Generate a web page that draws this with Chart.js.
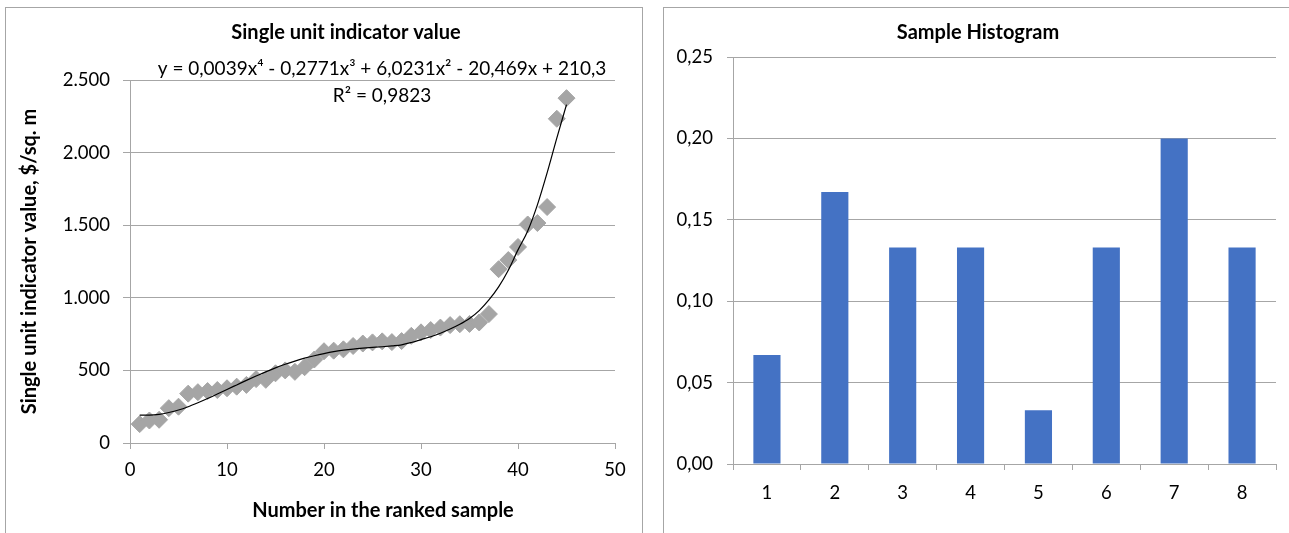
<!DOCTYPE html>
<html>
<head>
<meta charset="utf-8">
<script src="https://cdn.jsdelivr.net/npm/chart.js@4.4.1/dist/chart.umd.min.js"></script>
<style>
  html, body { margin: 0; padding: 0; background: #fff; overflow: hidden; }
  body { width: 1289px; height: 533px; position: relative; }
  .frame { position: absolute; border: 1px solid #a6a6a6; box-sizing: border-box; }
  #leftFrame { left: 5px; top: 7px; width: 638px; height: 560px; }
  #rightFrame { left: 663px; top: 7px; width: 640px; height: 560px; }
  canvas { position: absolute; top: 0; }
  #unitChart { left: 0; }
  #histChart { left: 663px; }
</style>
</head>
<body>
<div class="frame" id="leftFrame"></div>
<div class="frame" id="rightFrame"></div>
<canvas id="unitChart" width="696" height="533"></canvas>
<canvas id="histChart" width="630" height="533"></canvas>
<script>
// left chart: ranked sample
const rankNumbers = [1, 2, 3, 4, 5, 6, 7, 8, 9, 10, 11, 12, 13, 14, 15, 16, 17, 18, 19, 20, 21, 22, 23,
    24, 25, 26, 27, 28, 29, 30, 31, 32, 33, 34, 35, 36, 37, 38, 39, 40, 41, 42, 43, 44, 45];
const unitValues = [130, 155, 160, 240, 250, 340, 350, 358, 365, 377, 388, 400, 440, 435, 480, 500, 490, 522, 575, 632, 636, 645, 668,
    685, 693, 700, 695, 702, 738, 762, 778, 795, 812, 818, 820, 830, 888, 1197, 1260, 1350, 1505, 1515, 1625, 2233, 2375];
// trend line
const trendValues = [192, 192, 197, 210, 227, 250, 277, 306, 337, 369, 400, 431, 461, 490, 517, 542, 564, 584, 601, 616, 629, 639, 647,
    653, 658, 663, 669, 676, 692, 712, 732, 756, 785, 818, 858, 912, 985, 1075, 1190, 1330, 1460, 1640, 1860, 2100, 2330];
const unitXTicks = [0, 10, 20, 30, 40, 50];
const unitYTicks = [0, 500, 1000, 1500, 2000, 2500];
const unitTitle = 'Single unit indicator value';
const unitXTitle = 'Number in the ranked sample';
const unitYTitle = 'Single unit indicator value, $/sq. m';
const trendEquation = 'y = 0,0039x⁴ - 0,2771x³ + 6,0231x² - 20,469x + 210,3';
const trendR2 = 'R² = 0,9823';

// right chart: histogram
const histBins = ['1', '2', '3', '4', '5', '6', '7', '8'];
const histFreq = [0.067, 0.167, 0.133, 0.133, 0.033, 0.133, 0.2, 0.133];
const histYTicks = [0, 0.05, 0.10, 0.15, 0.20, 0.25];
const histTitle = 'Sample Histogram';

const gridColor = '#a6a6a6';

const thousands = v => String(v).replace(/\B(?=(\d{3})+(?!\d))/g, '.');

// free texts (titles, trendline label) placed relative to the plot area,
// Excel does not centre them the way the title plugin does
const textAt = {
    id: 'textAt',
    afterDatasetsDraw(chart, args, opts) {
        const ctx = chart.ctx;
        const a = chart.chartArea;
        ctx.save();
        ctx.fillStyle = '#000';
        ctx.textAlign = 'center';
        ctx.textBaseline = 'middle';
        (opts.items || []).forEach(t => {
            ctx.font = t.font;
            ctx.fillText(t.text, a.left + t.dx, t.y);
        });
        ctx.restore();
    }
};

const unitChart = () => {
    const ctx = document.getElementById('unitChart').getContext('2d');

    new Chart(ctx, {
        type: 'scatter',
        data: {
            datasets: [
                {
                    label: 'Trend',
                    data: rankNumbers.map((x, i) => ({ x: x, y: trendValues[i] })),
                    showLine: true,
                    borderColor: '#000',
                    borderWidth: 1.2,
                    pointRadius: 0,
                    cubicInterpolationMode: 'monotone',
                    fill: false,
                },
                {
                    label: 'Single unit indicator value',
                    data: rankNumbers.map((x, i) => ({ x: x, y: unitValues[i] })),
                    pointStyle: 'rectRot',
                    pointRadius: 8.5,
                    backgroundColor: '#a5a5a5',
                    borderColor: '#a5a5a5',
                    borderWidth: 1,
                }
            ]
        },
        options: {
            responsive: false,
            animation: false,
            layout: { padding: { top: 80, right: 81, bottom: 0, left: 0 } },
            scales: {
                x: {
                    type: 'linear',
                    min: 0,
                    max: 50,
                    afterBuildTicks: s => { s.ticks = unitXTicks.map(v => ({ value: v })); },
                    afterFit: s => { s.height = 90; },
                    grid: { drawOnChartArea: false, color: gridColor, tickLength: 6 },
                    border: { color: gridColor },
                    ticks: { padding: 10, color: '#000', font: { size: 18.5 }, maxRotation: 0 }
                },
                y: {
                    min: 0,
                    max: 2500,
                    afterBuildTicks: s => { s.ticks = unitYTicks.map(v => ({ value: v })); },
                    afterFit: s => { s.width = 130; },
                    grid: { color: gridColor, tickLength: 7 },
                    border: { color: gridColor },
                    ticks: { padding: 13, color: '#000', font: { size: 18.5 }, callback: v => thousands(v) },
                    title: {
                        display: true,
                        text: unitYTitle,
                        color: '#000',
                        font: { size: 20, weight: 'bold' },
                        padding: { top: 18, bottom: 0 }
                    }
                }
            },
            plugins: {
                legend: { display: false },
                tooltip: { enabled: false },
                title: { display: false },
                textAt: {
                    items: [
                        { text: unitTitle, font: 'bold 20px Lato', dx: 216, y: 33 },
                        { text: trendEquation, font: '19px Lato', dx: 252, y: 69 },
                        { text: trendR2, font: '19px Lato', dx: 252, y: 96 },
                        { text: unitXTitle, font: 'bold 20px Lato', dx: 253, y: 511 }
                    ]
                }
            }
        },
        plugins: [textAt]
    });
}

const histChart = () => {
    const ctx = document.getElementById('histChart').getContext('2d');

    new Chart(ctx, {
        type: 'bar',
        data: {
            labels: histBins,
            datasets: [{
                label: histTitle,
                data: histFreq,
                backgroundColor: '#4472c4',
                borderWidth: 0,
                barPercentage: 0.4,
                categoryPercentage: 1.0,
            }]
        },
        options: {
            responsive: false,
            animation: false,
            layout: { padding: { top: 57, right: 17, bottom: 0, left: 0 } },
            scales: {
                x: {
                    afterFit: s => { s.height = 69; },
                    grid: { drawOnChartArea: false, color: gridColor, tickLength: 6 },
                    border: { color: gridColor },
                    ticks: { padding: 12, color: '#000', font: { size: 18.5 } }
                },
                y: {
                    min: 0,
                    max: 0.25,
                    afterBuildTicks: s => { s.ticks = histYTicks.map(v => ({ value: v })); },
                    afterFit: s => { s.width = 70; },
                    grid: { color: gridColor, tickLength: 6 },
                    border: { color: gridColor },
                    ticks: { padding: 14, color: '#000', font: { size: 18.5 }, callback: v => v.toFixed(2).replace('.', ',') }
                }
            },
            plugins: {
                legend: { display: false },
                tooltip: { enabled: false },
                title: { display: false },
                textAt: {
                    items: [
                        { text: histTitle, font: 'bold 20px Lato', dx: 245, y: 33 }
                    ]
                }
            }
        },
        plugins: [textAt]
    });
}

Chart.defaults.font.family = 'Lato';
Promise.all([document.fonts.load('19px Lato'), document.fonts.load('bold 20px Lato')])
    .catch(() => {})
    .then(() => { unitChart(); histChart(); });
</script>
</body>
</html>
